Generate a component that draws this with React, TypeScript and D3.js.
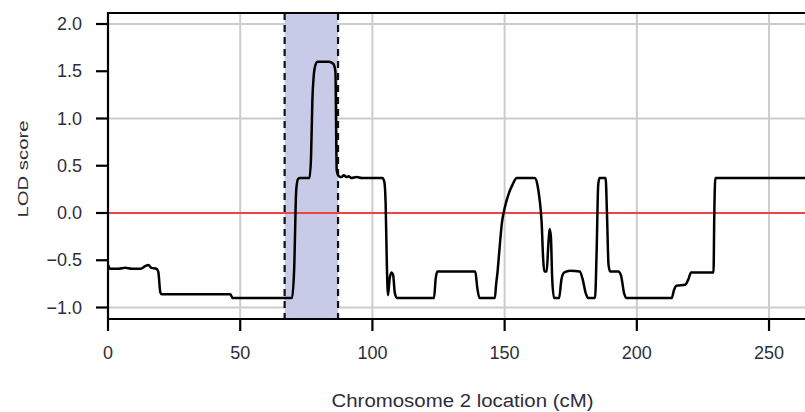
import React, { useEffect, useRef } from "react";
import * as d3 from "d3";

// chromosome 2 position (cM) and LOD score
const positions = [
  0, 0.8, 4, 6.5, 9, 12.3, 14.2, 15.3, 16.4, 18.3, 19.0, 19.8, 20.3,
  46.3, 47.1, 69.6, 70.4, 71.2, 71.9, 72.6, 76.2, 76.8, 77.3, 77.8, 78.5,
  79.3, 83.5, 85.2, 86.0, 86.5, 87.3, 88.3, 89.2, 90.1, 91.0, 92.0, 94.0,
  96.0, 103.8, 104.5, 105.0, 105.5, 105.9, 106.5, 107.2, 107.8, 108.5,
  109.3, 123.3, 123.9, 124.6, 138.9, 139.7, 140.5, 146.3, 146.8, 147.3,
  148.0, 149.0, 150.0, 151.5, 153.0, 154.6, 161.4, 162.4, 163.2, 164.0,
  164.6, 165.0, 165.9, 166.5, 167.0, 167.5, 168.0, 168.7, 170.6, 171.5,
  172.5, 174.8, 178.4, 179.5, 180.7, 181.6, 184.2, 184.8, 185.4, 185.9,
  188.2, 188.7, 189.3, 189.9, 193.0, 194.0, 195.2, 196.2, 213.2, 214.0,
  215.0, 218.3, 219.5, 220.5, 229.0, 229.3, 229.7, 263.6
];
const lodScores = [
  -0.55, -0.59, -0.59, -0.58, -0.59, -0.59, -0.56, -0.55, -0.58, -0.59, -0.62, -0.84, -0.86,
  -0.86, -0.9, -0.9, -0.6, 0.25, 0.36, 0.37, 0.37, 0.6, 1.2, 1.45, 1.57,
  1.6, 1.6, 1.58, 1.5, 0.45, 0.39, 0.38, 0.4, 0.38, 0.39, 0.37, 0.38,
  0.37, 0.37, 0.33, 0.1, -0.6, -0.87, -0.7, -0.63, -0.65, -0.85,
  -0.9, -0.9, -0.7, -0.62, -0.62, -0.8, -0.9, -0.9, -0.75, -0.63,
  -0.4, -0.1, 0.05, 0.2, 0.3, 0.37, 0.37, 0.3, 0.15, -0.1,
  -0.5, -0.62, -0.62, -0.35, -0.17, -0.25, -0.7, -0.9, -0.9, -0.7,
  -0.63, -0.61, -0.62, -0.7, -0.85, -0.9, -0.9, -0.4, 0.3, 0.37,
  0.37, 0.0, -0.55, -0.62, -0.62, -0.66, -0.85, -0.9, -0.9, -0.82,
  -0.77, -0.76, -0.7, -0.63, -0.63, 0.0, 0.37, 0.37
];

const xTicks = [0, 50, 100, 150, 200, 250];
const yTicks = [-1.0, -0.5, 0.0, 0.5, 1.0, 1.5, 2.0];
const xGrid = [50, 100, 150, 200, 250];
const yGrid = [-1, 1, 2];
const interval = [66.8, 87.0];

const TEXT = "#2e2e38";
const FONT = "Liberation Sans, Arial, Helvetica, sans-serif";

export default function App() {
  const ref = useRef<SVGSVGElement | null>(null);

  useEffect(() => {
    const svg = d3.select(ref.current);
    svg.selectAll("*").remove();

    const width = 805;
    const left = 108, top = 13, bottom = 319;

    const x = d3.scaleLinear().domain([0, 263.6]).range([left, width]);
    const y = d3.scaleLinear().domain([-1, 2]).range([307.5, 24]);

    // grid
    svg.append("g").selectAll("line")
      .data(xGrid)
      .enter()
      .append("line")
      .attr("x1", d => x(d)).attr("x2", d => x(d))
      .attr("y1", top).attr("y2", bottom)
      .attr("stroke", "#cccccc").attr("stroke-width", 2);

    svg.append("g").selectAll("line")
      .data(yGrid)
      .enter()
      .append("line")
      .attr("x1", left).attr("x2", width)
      .attr("y1", d => y(d)).attr("y2", d => y(d))
      .attr("stroke", "#cccccc").attr("stroke-width", 2);

    // support interval
    svg.append("rect")
      .attr("x", x(interval[0]))
      .attr("y", top)
      .attr("width", x(interval[1]) - x(interval[0]))
      .attr("height", bottom - top)
      .attr("fill", "#c8cbe8");

    svg.append("g").selectAll("line")
      .data(interval)
      .enter()
      .append("line")
      .attr("x1", d => x(d)).attr("x2", d => x(d))
      .attr("y1", top).attr("y2", bottom)
      .attr("stroke", "#111").attr("stroke-width", 2.2)
      .attr("stroke-dasharray", "7,5");

    // zero line
    svg.append("line")
      .attr("x1", left).attr("x2", width)
      .attr("y1", y(0)).attr("y2", y(0))
      .attr("stroke", "#ee4444").attr("stroke-width", 2);

    // LOD curve
    const pts: [number, number][] = positions.map((p, i) => [p, lodScores[i]]);
    const line = d3.line<[number, number]>()
      .x(d => x(d[0]))
      .y(d => y(d[1]))
      .curve(d3.curveMonotoneX);

    svg.append("path")
      .attr("d", line(pts))
      .attr("fill", "none")
      .attr("stroke", "#000")
      .attr("stroke-width", 2.5)
      .attr("stroke-linejoin", "round");

    // frame / axes
    svg.append("line")
      .attr("x1", left).attr("x2", width)
      .attr("y1", top).attr("y2", top)
      .attr("stroke", "#000").attr("stroke-width", 2.2);
    svg.append("line")
      .attr("x1", left).attr("x2", width)
      .attr("y1", bottom).attr("y2", bottom)
      .attr("stroke", "#000").attr("stroke-width", 2.2);
    svg.append("line")
      .attr("x1", left).attr("x2", left)
      .attr("y1", top - 1).attr("y2", bottom)
      .attr("stroke", "#000").attr("stroke-width", 2.2);

    // x ticks
    svg.append("g").selectAll("line")
      .data(xTicks)
      .enter()
      .append("line")
      .attr("x1", d => x(d)).attr("x2", d => x(d))
      .attr("y1", bottom).attr("y2", bottom + 12)
      .attr("stroke", "#000").attr("stroke-width", 2.2);

    svg.append("g").selectAll("text")
      .data(xTicks)
      .enter()
      .append("text")
      .attr("x", d => x(d))
      .attr("y", 353)
      .attr("text-anchor", "middle")
      .attr("dominant-baseline", "central")
      .attr("font-family", FONT)
      .attr("font-size", 18)
      .attr("fill", TEXT)
      .text(d => String(d));

    // y ticks
    svg.append("g").selectAll("line")
      .data(yTicks)
      .enter()
      .append("line")
      .attr("x1", left - 12).attr("x2", left)
      .attr("y1", d => y(d)).attr("y2", d => y(d))
      .attr("stroke", "#000").attr("stroke-width", 2.2);

    svg.append("g").selectAll("text")
      .data(yTicks)
      .enter()
      .append("text")
      .attr("x", 82)
      .attr("y", d => y(d))
      .attr("text-anchor", "end")
      .attr("dominant-baseline", "central")
      .attr("font-family", FONT)
      .attr("font-size", 18)
      .attr("fill", TEXT)
      .text(d => (d < 0 ? "\u2212" + Math.abs(d).toFixed(1) : d.toFixed(1)));

    // axis titles
    svg.append("text")
      .attr("x", 462.5)
      .attr("y", 401)
      .attr("text-anchor", "middle")
      .attr("dominant-baseline", "central")
      .attr("font-family", FONT)
      .attr("font-size", 18)
      .attr("fill", TEXT)
      .attr("textLength", 262)
      .attr("lengthAdjust", "spacingAndGlyphs")
      .text("Chromosome 2 location (cM)");

    svg.append("text")
      .attr("transform", "translate(22,169) rotate(-90)")
      .attr("text-anchor", "middle")
      .attr("dominant-baseline", "central")
      .attr("font-family", FONT)
      .attr("font-size", 15.5)
      .attr("fill", TEXT)
      .attr("textLength", 97)
      .attr("lengthAdjust", "spacingAndGlyphs")
      .text("LOD score");
  }, []);

  return (
    <div style={{ position: "absolute", left: 0, top: 0 }}>
      <svg ref={ref} width={805} height={412} style={{ display: "block", background: "#fff" }} />
    </div>
  );
}
